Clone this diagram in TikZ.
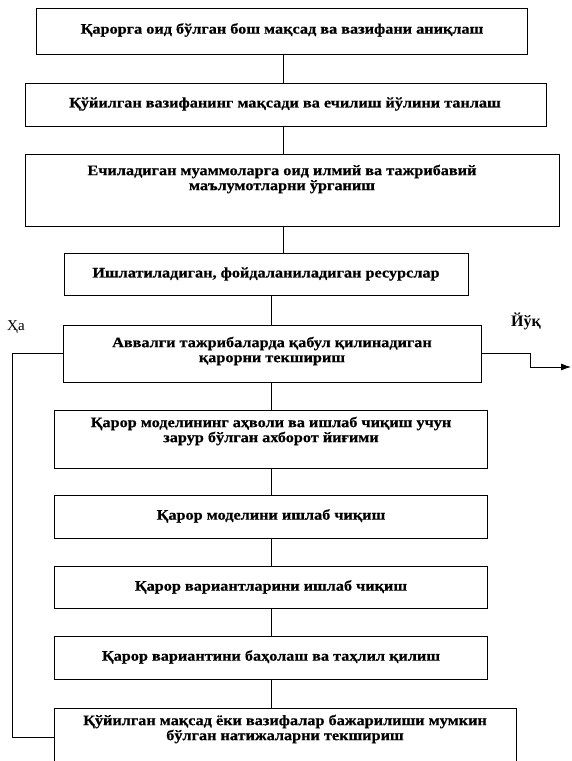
\documentclass[tikz,border=0pt]{standalone}
\usepackage{fontspec}
\setmainfont{Liberation Serif}
\newfontfamily\boxfont{Liberation Serif Bold}[FakeStretch=1.12, FakeBold=0.6]
\usetikzlibrary{arrows.meta}
\tikzset{
  box/.style={draw=black, line width=0.8pt, inner sep=0pt},
  txt/.style={font=\boxfont\fontsize{14.5}{15}\selectfont, align=center, inner sep=0pt},
  lbl/.style={font=\fontsize{15}{16}\selectfont, inner sep=0pt},
  link/.style={draw=black, line width=0.8pt},
}
\begin{document}
\begin{tikzpicture}[x=1pt,y=-1pt]
\useasboundingbox (0,0) rectangle (571,761);
\clip (0,0) rectangle (571,761);
% boxes
\node[box, minimum width=491, minimum height=46] (b1) at (281.5,31.5) {};
\node[box, minimum width=521, minimum height=43] (b2) at (285.5,104.5) {};
\node[box, minimum width=534, minimum height=72] (b3) at (292,190) {};
\node[box, minimum width=404, minimum height=42] (b4) at (266,274) {};
\node[box, minimum width=418, minimum height=57] (b5) at (272,353.5) {};
\node[box, minimum width=433, minimum height=58] (b6) at (270.5,439) {};
\node[box, minimum width=433, minimum height=43] (b7) at (270.5,516.5) {};
\node[box, minimum width=433, minimum height=42] (b8) at (270.5,587) {};
\node[box, minimum width=433, minimum height=43] (b9) at (270.5,657.5) {};
\node[box, minimum width=462, minimum height=72] (b10) at (285,744) {};
% texts
\node[txt] (t1) at (282,30) {Қарорга оид бўлган бош мақсад ва вазифани аниқлаш};
\node[txt] (t2) at (285,104) {Қўйилган вазифанинг мақсади ва ечилиш йўлини танлаш};
\node[txt] (t3) at (282,179) {Ечиладиган муаммоларга оид илмий ва тажрибавий\\маълумотларни ўрганиш};
\node[txt] (t4) at (266,274) {Ишлатиладиган, фойдаланиладиган ресурслар};
\node[txt] (t5) at (272,351) {Аввалги тажрибаларда қабул қилинадиган\\қарорни текшириш};
\node[txt] (t6) at (271,431) {Қарор моделининг аҳволи ва ишлаб чиқиш учун\\зарур бўлган ахборот йиғими};
\node[txt] (t7) at (271,516) {Қарор моделини ишлаб чиқиш};
\node[txt] (t8) at (271,587) {Қарор вариантларини ишлаб чиқиш};
\node[txt] (t9) at (271,657) {Қарор вариантини баҳолаш ва таҳлил қилиш};
\node[txt] (t10) at (285,729) {Қўйилган мақсад ёки вазифалар бажарилиши мумкин\\бўлган натижаларни текшириш};
% labels
\node[lbl, anchor=west] (ha) at (7,327) {Ҳа};
\node[lbl, anchor=west, font=\bfseries\fontsize{16}{17}\selectfont] (yuq) at (511,321) {Йўқ};
% connector columns
\coordinate (cu) at (283,0);
\coordinate (cl) at (271,0);
\coordinate (loopx) at (12,0);
\coordinate (loopy) at (0,737);
\coordinate (outx) at (530,0);
\coordinate (tip) at (571,367);
\draw[link] (b1.south -| cu) -- (b2.north -| cu);
\draw[link] (b2.south -| cu) -- (b3.north -| cu);
\draw[link] (b3.south -| cu) -- (b4.north -| cu);
\draw[link] (b4.south -| cl) -- (b5.north -| cl);
\draw[link] (b5.south -| cl) -- (b6.north -| cl);
\draw[link] (b6.south -| cl) -- (b7.north -| cl);
\draw[link] (b7.south -| cl) -- (b8.north -| cl);
\draw[link] (b8.south -| cl) -- (b9.north -| cl);
\draw[link] (b9.south -| cl) -- (b10.north -| cl);
% loop "Ha"
\draw[link] (b5.west) -- (b5.west -| loopx) -- (loopx |- loopy) -- (b10.west |- loopy);
% exit "Yuq"
\draw[link, -{Latex[length=10pt,width=7pt]}] (b5.east) -- (b5.east -| outx) -- (outx |- tip) -- (tip);
\end{tikzpicture}
\end{document}
